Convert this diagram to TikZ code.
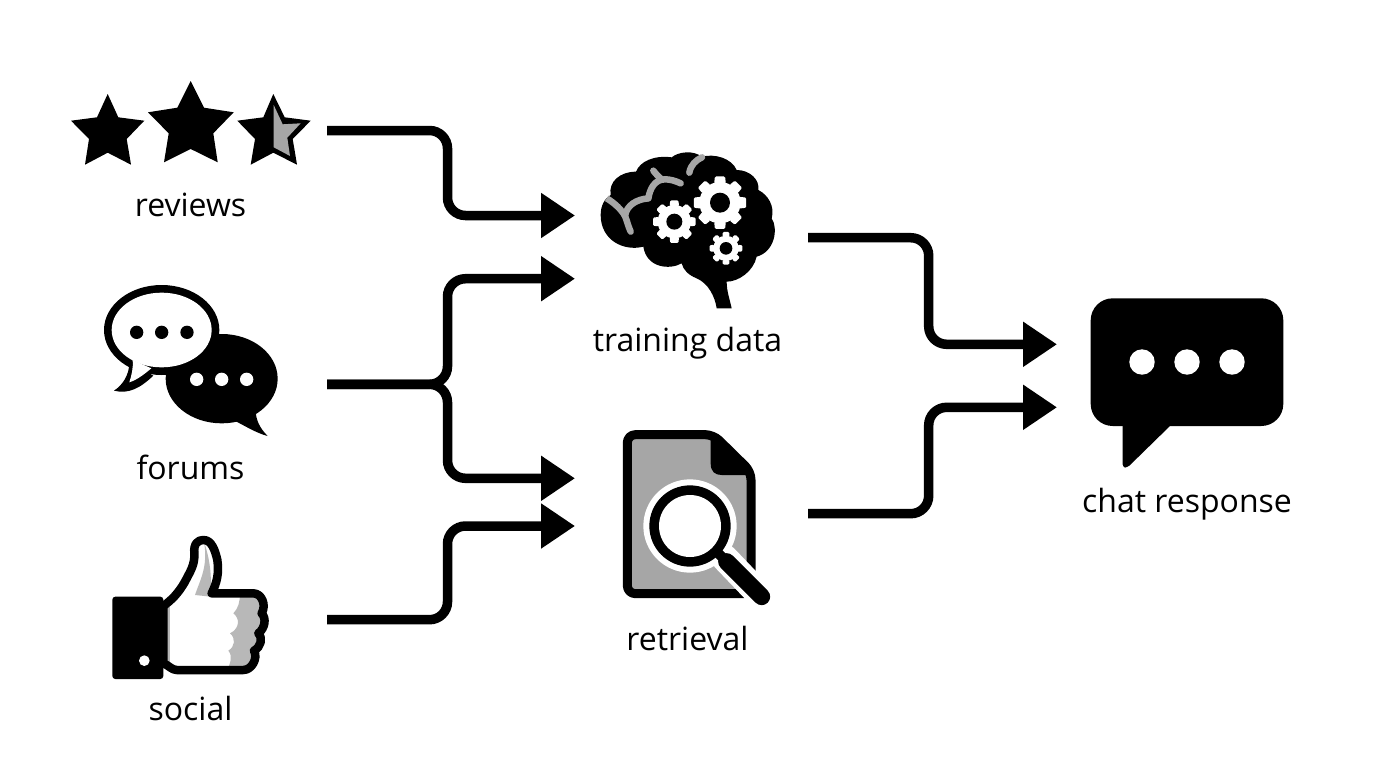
\documentclass[tikz,border=0pt]{standalone}
\usepackage{fontspec}
\setmainfont{Open Sans}
\usetikzlibrary{arrows.meta}
\definecolor{midgray}{HTML}{A6A6A6}
\definecolor{lightgray2}{HTML}{B8B8B8}
\tikzset{
  zoomed/.style 2 args={shift={(#1,#2)},x=0.33333pt,y=-0.33333pt},
  label text/.style={font=\fontsize{32}{38}\selectfont,text=black,anchor=base,inner sep=0pt},
  flow/.style={line width=9.5pt,rounded corners=18pt,-{Triangle[length=34pt,width=43pt]},draw=black},
}
\newcommand{\gearicon}[5]{%
  \begin{scope}[shift={(#1,#2)}]
  \fill[white] (0,0) circle (#4);
  \foreach \a in {0,45,...,315}{%
    \pgfmathsetmacro{\aa}{\a-17}\pgfmathsetmacro{\ab}{\a-11}\pgfmathsetmacro{\ac}{\a+11}\pgfmathsetmacro{\ad}{\a+17}
    \fill[white,rounded corners=1.2pt] (\aa:#4-2) -- (\ab:#3) -- (\ac:#3) -- (\ad:#4-2) -- cycle;}
  \fill[black] (0,0) circle (#5);
  \end{scope}
}
\begin{document}
\begin{tikzpicture}[x=1pt,y=-1pt]
\useasboundingbox (0,0) rectangle (1376,768);

% ---- reviews: stars
\fill[black] (107.7,94)--(118.3,117.3)--(144.3,120.7)--(126.7,139)--(131,164.7)--(107.7,152.7)--(85,164.7)--(89,139)--(71,120.7)--(97,117.3)--cycle;
\fill[black] (190.7,81)--(204,107.7)--(233.7,112.3)--(213.3,133.3)--(217.7,162.3)--(190.7,149)--(164,162.3)--(168.7,133.3)--(148,112.3)--(177.3,107.7)--cycle;
\fill[black] (273.3,94)--(284.7,117.3)--(310.7,120.7)--(292.7,139)--(297,164.7)--(273.3,152.7)--(250.7,164.7)--(255,139)--(237.3,120.7)--(263.3,117.3)--cycle;
\fill[midgray] (273.7,105)--(282.7,124.3)--(300.7,123.3)--(287.3,137.7)--(290,156)--(273.7,147.3)--cycle;
\node[label text] (reviews) at (190.5,216.5) {reviews};

% ---- forums: speech bubbles
\begin{scope}[zoomed={90}{275}]
  \fill[black] (395,311) ellipse (168 and 134);
  \fill[black] (430,435) .. controls (460,450) and (500,475) .. (533,483) .. controls (510,460) and (497,435) .. (497,405) -- cycle;
  \foreach \x in {320,395,470}{\fill[white] (\x,313) circle (20);}
  \fill[black] (215,165) ellipse (173 and 135);
  \fill[black] (118,262) .. controls (118,300) and (98,330) .. (72,347) .. controls (115,358) and (150,340) .. (190,302) -- cycle;
  \fill[white] (215,165) ellipse (150 and 112);
  \fill[white] (128,255) .. controls (130,280) and (125,300) .. (118,322) .. controls (140,315) and (160,300) .. (184,280) -- cycle;
  \foreach \x in {140,215,291}{\fill[black] (\x,172) circle (20);}
\end{scope}
\node[label text] (forums) at (190.5,479.5) {forums};

% ---- social: thumbs up
\begin{scope}[zoomed={100}{530}]
  \def\handpath{(190,228) .. controls (215,210) and (235,190) .. (255,155) .. controls (270,125) and (285,105) .. (283,70) .. controls (280,40) and (295,30) .. (310,30) .. controls (335,30) and (345,60) .. (352,90) .. controls (358,130) and (350,160) .. (335,190) -- (460,190) .. controls (485,190) and (500,225) .. (485,250) .. controls (500,265) and (495,295) .. (475,310) .. controls (490,325) and (482,352) .. (462,362) .. controls (475,385) and (455,420) .. (430,420) -- (230,420) .. controls (215,420) and (205,405) .. (190,400) -- cycle}
  \fill[white] \handpath;
  \begin{scope}
    \clip \handpath;
    \fill[lightgray2] (190,230) rectangle (210,405);
    \fill[lightgray2] (312,35) .. controls (330,90) and (335,130) .. (332,200) -- (285,195) .. controls (300,150) and (325,110) .. (312,35) -- cycle;
    \fill[lightgray2] (420,190) .. controls (420,215) and (415,235) .. (400,250) .. controls (420,265) and (420,295) .. (390,310) .. controls (408,325) and (405,350) .. (385,362) .. controls (400,380) and (390,400) .. (380,425) -- (520,425) -- (520,190) -- cycle;
  \end{scope}
  \draw[black,line width=8.5pt,line join=round] \handpath;
  \fill[black,rounded corners=3pt] (37,200) rectangle (190,447);
  \fill[white] (133,392) circle (16);
\end{scope}
\node[label text] (social) at (190.5,720) {social};

% ---- training data: brain
\begin{scope}[zoomed={590}{140}]
  \fill[black] (32,225) .. controls (32,195) and (45,175) .. (62,165) .. controls (55,125) and (90,95) .. (138,95) .. controls (150,65) and (190,45) .. (245,52) .. controls (265,35) and (310,30) .. (335,50) .. controls (375,40) and (425,55) .. (440,90) .. controls (480,90) and (510,120) .. (505,150) .. controls (535,165) and (555,200) .. (545,235) .. controls (565,265) and (555,335) .. (500,350) .. controls (490,395) and (445,425) .. (410,425) .. controls (410,455) and (420,480) .. (425,505) -- (380,505) .. controls (375,470) and (355,430) .. (320,415) .. controls (295,405) and (280,390) .. (275,370) .. controls (240,390) and (170,385) .. (160,320) .. controls (100,335) and (32,300) .. (32,225) -- cycle;
  \begin{scope}[draw=midgray,line width=6.5pt,line cap=round]
    \draw[line cap=butt] (50,175) .. controls (75,190) and (95,210) .. (105,228);
    \draw (105,228) .. controls (112,245) and (115,260) .. (122,275);
    \draw (105,228) .. controls (110,195) and (140,178) .. (175,175);
    \draw (175,175) .. controls (180,145) and (195,118) .. (225,118) .. controls (240,118) and (255,122) .. (272,130);
    \draw (190,92) .. controls (198,102) and (205,110) .. (215,118);
    \draw (298,98) .. controls (302,75) and (318,60) .. (336,52);
  \end{scope}
  \gearicon{390}{188}{80}{62}{30}
  \gearicon{253}{245}{65}{50}{24}
  \gearicon{408}{325}{50}{38}{19}
\end{scope}
\node[label text] (training) at (687.5,351.5) {training data};

% ---- retrieval: document and magnifier
\begin{scope}[zoomed={610}{420}]
  \filldraw[fill=midgray,draw=black,line width=9pt,line join=round,rounded corners=8pt]
    (52,44) -- (310,44) -- (423,155) -- (423,521) -- (52,521) -- cycle;
  \fill[black] (302,40) -- (302,130) .. controls (302,155) and (315,165) .. (335,165) -- (423,165) -- (423,150) -- (315,40) -- cycle;
  \draw[white,line width=27pt,line cap=round] (345,415) -- (455,530);
  \fill[white] (240,318) circle (140);
  \fill[black] (240,318) circle (122);
  \fill[white] (240,318) circle (93);
  \draw[black,line width=10pt] (320,395) -- (350,425);
  \draw[black,line width=17pt,line cap=round] (350,425) -- (455,530);
\end{scope}
\node[label text] (retrieval) at (687.5,650) {retrieval};

% ---- chat response
\fill[black,rounded corners=22pt] (1090.7,298.3) rectangle (1283.3,426);
\fill[black,rounded corners=3pt] (1122.7,420) -- (1122.7,467.5) -- (1127.5,467.5) -- (1172,424) -- (1172,420) -- cycle;
\foreach \x in {1142,1187,1232}{\fill[white] (\x,362) circle (12.7);}
\node[label text] (chat) at (1187,512) {chat response};

% ---- connectors
\coordinate (s1) at (327,130.5);
\coordinate (s2) at (327,384.3);
\coordinate (s3) at (327,619.7);
\coordinate (t1) at (575,215.5);
\coordinate (t2) at (575,278.7);
\coordinate (t3) at (575,478.3);
\coordinate (t4) at (575,526);
\coordinate (s4) at (808,237.7);
\coordinate (s5) at (808,513.7);
\coordinate (t5) at (1057,344.3);
\coordinate (t6) at (1057,407.3);
\draw[flow] (s1) -- (447.5,130.5) -- (447.5,215.5) -- (t1);
\draw[flow] (s2) -- (447.5,384.3) -- (447.5,278.7) -- (t2);
\draw[flow] (s2) -- (447.5,384.3) -- (447.5,478.3) -- (t3);
\draw[flow] (s3) -- (447.5,619.7) -- (447.5,526) -- (t4);
\draw[flow] (s4) -- (928.7,237.7) -- (928.7,344.3) -- (t5);
\draw[flow] (s5) -- (928.7,513.7) -- (928.7,407.3) -- (t6);
\end{tikzpicture}
\end{document}
